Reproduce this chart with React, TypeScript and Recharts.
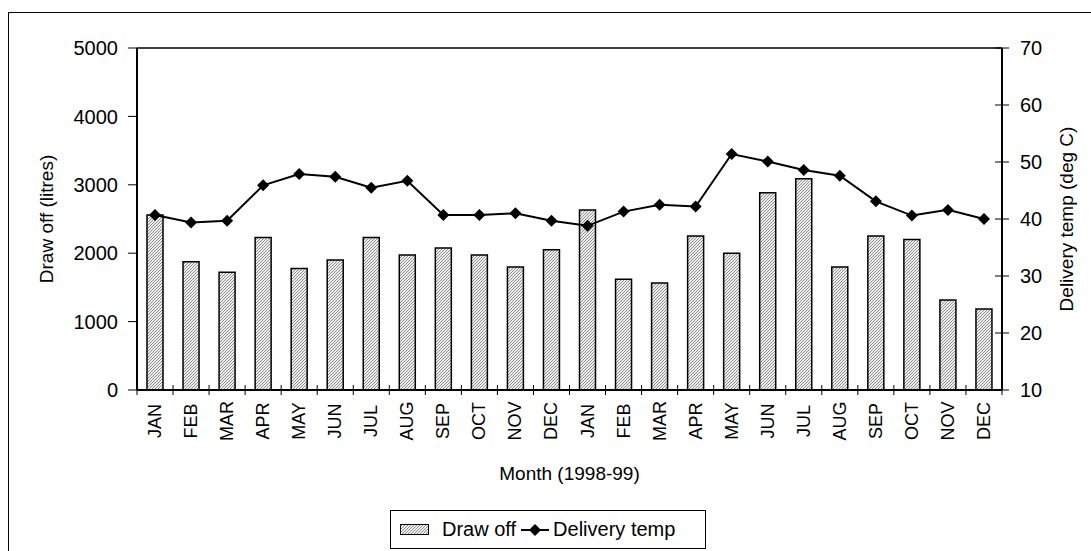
import React from "react";
import {
  ComposedChart,
  Bar,
  Line,
  XAxis,
  YAxis,
  Legend,
  ReferenceLine,
} from "recharts";

const months = [
  "JAN", "FEB", "MAR", "APR", "MAY", "JUN", "JUL", "AUG", "SEP", "OCT", "NOV", "DEC",
  "JAN", "FEB", "MAR", "APR", "MAY", "JUN", "JUL", "AUG", "SEP", "OCT", "NOV", "DEC",
];
const drawOff = [
  2560, 1875, 1720, 2230, 1775, 1900, 2230, 1975, 2075, 1975, 1800, 2050,
  2630, 1620, 1565, 2250, 2000, 2885, 3090, 1800, 2250, 2200, 1315, 1185,
];
const deliveryTemp = [
  40.7, 39.4, 39.7, 45.9, 47.9, 47.4, 45.5, 46.7, 40.7, 40.7, 41.0, 39.7,
  38.8, 41.3, 42.5, 42.2, 51.4, 50.1, 48.6, 47.6, 43.1, 40.6, 41.6, 40.0,
];
const leftTicks = [0, 1000, 2000, 3000, 4000, 5000];
const rightTicks = [10, 20, 30, 40, 50, 60, 70];

const data = months.map((m, i) => ({
  idx: i,
  month: m,
  "Draw off": drawOff[i],
  "Delivery temp": deliveryTemp[i],
}));

const FONT = "'Liberation Sans', Arial, sans-serif";
const W = 1083;
const H = 539;
const MARGIN = { top: 35, right: 10, bottom: 102, left: 68 };
const PLOT_W = W - MARGIN.left - MARGIN.right - 60 - 80;
const BW = PLOT_W / months.length;

const XTick = (props: any) => {
  const { x, y, payload, index } = props;
  const ly = y + 31;
  return (
    <g>
      <line x1={x - BW / 2} x2={x - BW / 2} y1={y - 5} y2={y + 5} stroke="#000" />
      {index === months.length - 1 && (
        <line x1={x + BW / 2} x2={x + BW / 2} y1={y - 5} y2={y + 5} stroke="#000" />
      )}
      <text
        x={x}
        y={ly}
        transform={`rotate(-90, ${x}, ${ly})`}
        textAnchor="middle"
        dominantBaseline="central"
        fontSize={18}
        fontFamily={FONT}
        fill="#000"
      >
        {months[payload.value]}
      </text>
    </g>
  );
};

const RightTick = (props: any) => {
  const { x, y, payload } = props;
  return (
    <g>
      <line x1={x - 7} x2={x + 7} y1={y} y2={y} stroke="#000" />
      <text x={x + 18} y={y} dominantBaseline="central" fontSize={20} fontFamily={FONT} fill="#000">
        {payload.value}
      </text>
    </g>
  );
};

const Diamond = (props: any) => {
  const { cx, cy } = props;
  if (cx == null || cy == null) return null;
  return (
    <polygon
      points={`${cx},${cy - 6} ${cx + 6},${cy} ${cx},${cy + 6} ${cx - 6},${cy}`}
      fill="#000"
    />
  );
};

const LegendBox = () => (
  <div
    style={{
      boxSizing: "border-box",
      width: "100%",
      height: 39,
      border: "1px solid #000",
      display: "flex",
      alignItems: "center",
      paddingLeft: 9,
      fontSize: 20,
      fontFamily: FONT,
      color: "#000",
      background: "#fff",
    }}
  >
    <svg width={30} height={12}>
      <rect x={0.5} y={0.5} width={28} height={10} fill="url(#hatch)" stroke="#000" />
    </svg>
    <span style={{ marginLeft: 12 }}>Draw off</span>
    <svg width={30} height={14} style={{ marginLeft: 4 }}>
      <line x1={1} x2={29} y1={7} y2={7} stroke="#000" strokeWidth={2} />
      <polygon points="15,1 21,7 15,13 9,7" fill="#000" />
    </svg>
    <span style={{ marginLeft: 3 }}>Delivery temp</span>
  </div>
);

export default function App() {
  return (
    <div>
      <style>{`body{margin:0;overflow:hidden;background:#fff}`}</style>
      <svg width={0} height={0} style={{ position: "absolute" }}>
        <defs>
          <pattern id="hatch" patternUnits="userSpaceOnUse" width={3} height={3}>
            <rect width={3} height={3} fill="#f0f0f0" />
            <path d="M-1,1 l2,-2 M0,3 l3,-3 M2,4 l2,-2" stroke="#8a8a8a" strokeWidth={1} />
          </pattern>
        </defs>
      </svg>
      <div
        style={{
          position: "absolute",
          left: 8,
          top: 12,
          width: W,
          height: H,
          borderLeft: "1px solid #000",
          borderTop: "1px solid #000",
          background: "#fff",
        }}
      >
        <ComposedChart width={W} height={H} data={data} margin={MARGIN}>
          <XAxis
            dataKey="idx"
            xAxisId="x"
            height={60}
            tick={<XTick />}
            tickLine={false}
            tickSize={0}
            tickMargin={0}
            interval={0}
            axisLine={{ stroke: "#000", strokeWidth: 2 }}
            label={{
              content: (p: any) => {
                const vb = p.viewBox;
                return (
                  <text
                    x={vb.x + vb.width / 2}
                    y={vb.y + 83}
                    textAnchor="middle"
                    dominantBaseline="central"
                    fontSize={19}
                    fontFamily={FONT}
                    fill="#000"
                  >
                    Month (1998-99)
                  </text>
                );
              },
            }}
          />
          <YAxis
            yAxisId="left"
            width={60}
            domain={[0, 5000]}
            ticks={leftTicks}
            interval={0}
            tickSize={9}
            tickMargin={10}
            tick={{ fontSize: 20, fontFamily: FONT, fill: "#000" }}
            tickLine={{ stroke: "#000" }}
            axisLine={{ stroke: "#000", strokeWidth: 2 }}
            label={{
              content: (p: any) => {
                const vb = p.viewBox;
                const cx = vb.x - 31;
                const cy = vb.y + vb.height / 2;
                return (
                  <text
                    x={cx}
                    y={cy}
                    transform={`rotate(-90, ${cx}, ${cy})`}
                    textAnchor="middle"
                    dominantBaseline="central"
                    fontSize={19}
                    fontFamily={FONT}
                    fill="#000"
                  >
                    Draw off (litres)
                  </text>
                );
              },
            }}
          />
          <YAxis
            yAxisId="right"
            orientation="right"
            width={80}
            domain={[10, 70]}
            ticks={rightTicks}
            interval={0}
            tickSize={0}
            tickMargin={0}
            tickLine={false}
            tick={<RightTick />}
            axisLine={{ stroke: "#000", strokeWidth: 2 }}
            label={{
              content: (p: any) => {
                const vb = p.viewBox;
                const cx = vb.x + 64;
                const cy = vb.y + vb.height / 2;
                return (
                  <text
                    x={cx}
                    y={cy}
                    transform={`rotate(-90, ${cx}, ${cy})`}
                    textAnchor="middle"
                    dominantBaseline="central"
                    fontSize={19}
                    fontFamily={FONT}
                    fill="#000"
                  >
                    Delivery temp (deg C)
                  </text>
                );
              },
            }}
          />
          <ReferenceLine yAxisId="left" xAxisId="x" y={5000} stroke="#000" strokeWidth={1.5} />
          <Legend
            layout="horizontal"
            verticalAlign="middle"
            align="center"
            content={<LegendBox />}
            wrapperStyle={{ left: 381, top: 497, width: 316, height: 39, bottom: "auto" }}
          />
          <Bar
            yAxisId="left"
            xAxisId="x"
            dataKey="Draw off"
            barSize={16}
            fill="url(#hatch)"
            stroke="#000"
            strokeWidth={1.5}
            isAnimationActive={false}
          />
          <Line
            yAxisId="right"
            xAxisId="x"
            dataKey="Delivery temp"
            type="linear"
            stroke="#000"
            strokeWidth={2}
            dot={<Diamond />}
            activeDot={false}
            isAnimationActive={false}
          />
        </ComposedChart>
      </div>
    </div>
  );
}
